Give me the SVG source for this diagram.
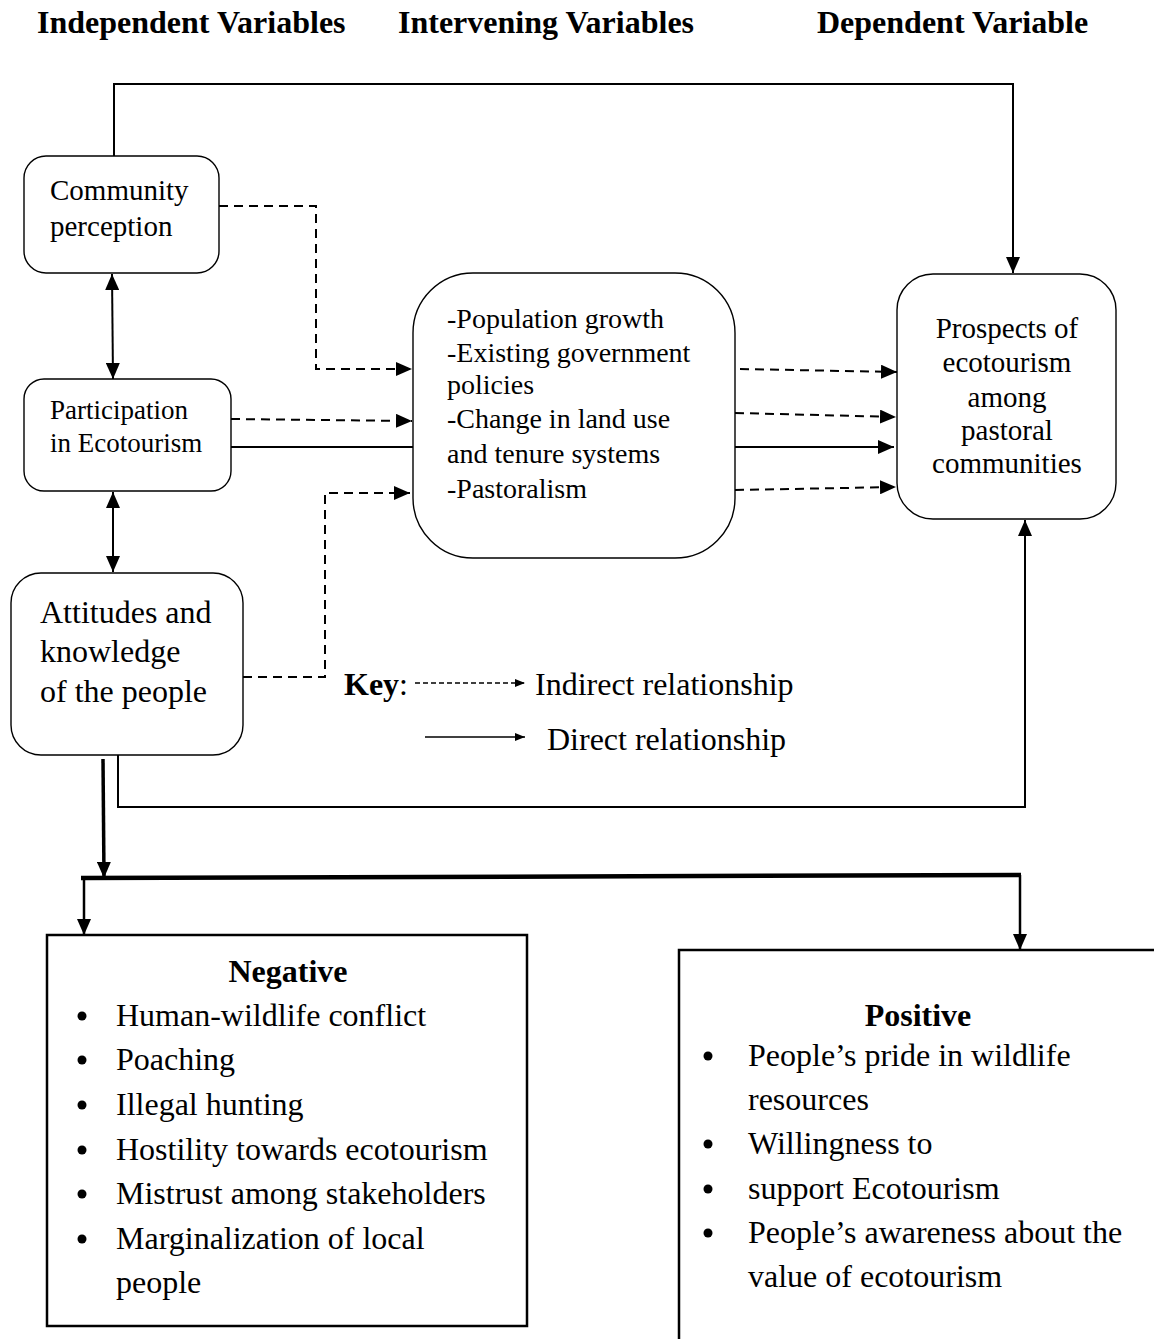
<svg xmlns="http://www.w3.org/2000/svg" width="1154" height="1339" viewBox="0 0 1154 1339">
<style>
text{font-family:"Liberation Serif","Times New Roman",serif;fill:#000}
.b{font-weight:bold}
.box{fill:#fff;stroke:#000;stroke-width:1.4}
.sq{fill:#fff;stroke:#000;stroke-width:2.5}
.c{fill:none;stroke:#000;stroke-width:2}
.d{fill:none;stroke:#000;stroke-width:2;stroke-dasharray:9 6}
.t32{font-size:32px}
</style>
<defs>
<marker id="ah" markerUnits="userSpaceOnUse" markerWidth="16" markerHeight="14" refX="16" refY="7" orient="auto-start-reverse"><path d="M0,0 L16,7 L0,14 z"/></marker>
<marker id="ahs" markerUnits="userSpaceOnUse" markerWidth="10" markerHeight="8" refX="10" refY="4" orient="auto"><path d="M0,0 L10,4 L0,8 z"/></marker>
</defs>

<g id="headers" class="b t32">
<text x="37" y="33">Independent Variables</text>
<text x="398" y="33">Intervening Variables</text>
<text x="817" y="33">Dependent Variable</text>
</g>

<g id="connectors">
<path class="c" d="M114,156 V84 H1013 V273" marker-end="url(#ah)"/>
<path class="d" d="M219,206 H316 V369 H412" marker-end="url(#ah)"/>
<path class="d" d="M231,419 L412,421" marker-end="url(#ah)"/>
<path class="c" d="M231,447 H413"/>
<path class="d" d="M243,677 H325 V493 H410" marker-end="url(#ah)"/>
<path class="d" d="M740,369 L897,372" marker-end="url(#ah)"/>
<path class="d" d="M735,413 L896,417" marker-end="url(#ah)"/>
<path class="c" d="M735,447 H894" marker-end="url(#ah)"/>
<path class="d" d="M735,490 L896,487" marker-end="url(#ah)"/>
<path class="c" d="M118,755 V807 H1025 V520" marker-end="url(#ah)"/>
<path class="c" d="M112,274 L113,379" marker-start="url(#ah)" marker-end="url(#ah)"/>
<path class="c" d="M113,492 V572" marker-start="url(#ah)" marker-end="url(#ah)"/>
<path class="c" style="stroke-width:3.5" d="M103,759 L104,878" marker-end="url(#ah)"/>
<path class="c" style="stroke-width:4.5" d="M81,878 L1021,875"/>
<path class="c" style="stroke-width:2.5" d="M84,878 V935" marker-end="url(#ah)"/>
<path class="c" style="stroke-width:2.5" d="M1020,875 V950" marker-end="url(#ah)"/>
</g>

<g id="community">
<rect class="box" x="24" y="156" width="195" height="117" rx="22"/>
<text x="50" y="200" font-size="29">Community</text>
<text x="50" y="236" font-size="29">perception</text>
</g>

<g id="participation">
<rect class="box" x="24" y="379" width="207" height="112" rx="20"/>
<text x="50" y="419" font-size="27">Participation</text>
<text x="50" y="452" font-size="27">in Ecotourism</text>
</g>

<g id="attitudes">
<rect class="box" x="11" y="573" width="232" height="182" rx="30"/>
<text x="40" y="623" class="t32">Attitudes and</text>
<text x="40" y="662" class="t32">knowledge</text>
<text x="40" y="702" class="t32">of the people</text>
</g>

<g id="intervening">
<rect class="box" x="413" y="273" width="322" height="285" rx="60"/>
<text x="447" y="328" font-size="28">-Population growth</text>
<text x="447" y="362" font-size="28">-Existing government</text>
<text x="447" y="394" font-size="28">policies</text>
<text x="447" y="428" font-size="28">-Change in land use</text>
<text x="447" y="463" font-size="28">and tenure systems</text>
<text x="447" y="498" font-size="28">-Pastoralism</text>
</g>

<g id="prospects">
<rect class="box" x="897" y="274" width="219" height="245" rx="36"/>
<g font-size="29" text-anchor="middle">
<text x="1007" y="338">Prospects of</text>
<text x="1007" y="372">ecotourism</text>
<text x="1007" y="407">among</text>
<text x="1007" y="440">pastoral</text>
<text x="1007" y="473">communities</text>
</g>
</g>

<g id="key">
<text x="344" y="695" class="t32"><tspan class="b">Key</tspan>:</text>
<path d="M415,683 H525" fill="none" stroke="#000" stroke-width="1.3" stroke-dasharray="5 3" marker-end="url(#ahs)"/>
<text x="535" y="695" class="t32">Indirect relationship</text>
<path d="M425,737 H525" fill="none" stroke="#000" stroke-width="1.3" marker-end="url(#ahs)"/>
<text x="547" y="750" class="t32">Direct relationship</text>
</g>

<g id="negative">
<rect class="sq" x="47" y="935" width="480" height="391"/>
<text x="288" y="982" class="b t32" text-anchor="middle">Negative</text>
<g class="t32">
<circle cx="82" cy="1016" r="4.5"/><text x="116" y="1026">Human-wildlife conflict</text>
<circle cx="82" cy="1060" r="4.5"/><text x="116" y="1070">Poaching</text>
<circle cx="82" cy="1105" r="4.5"/><text x="116" y="1115">Illegal hunting</text>
<circle cx="82" cy="1150" r="4.5"/><text x="116" y="1160">Hostility towards ecotourism</text>
<circle cx="82" cy="1194" r="4.5"/><text x="116" y="1204">Mistrust among stakeholders</text>
<circle cx="82" cy="1239" r="4.5"/><text x="116" y="1249">Marginalization of local</text>
<text x="116" y="1293">people</text>
</g>
</g>

<g id="positive">
<rect class="sq" x="679" y="950" width="520" height="430"/>
<text x="918" y="1026" class="b t32" text-anchor="middle">Positive</text>
<g class="t32">
<circle cx="708" cy="1056" r="4.5"/><text x="748" y="1066">People’s pride in wildlife</text>
<text x="748" y="1110">resources</text>
<circle cx="708" cy="1144" r="4.5"/><text x="748" y="1154">Willingness to</text>
<circle cx="708" cy="1189" r="4.5"/><text x="748" y="1199">support Ecotourism</text>
<circle cx="708" cy="1233" r="4.5"/><text x="748" y="1243">People’s awareness about the</text>
<text x="748" y="1287">value of ecotourism</text>
</g>
</g>
</svg>
